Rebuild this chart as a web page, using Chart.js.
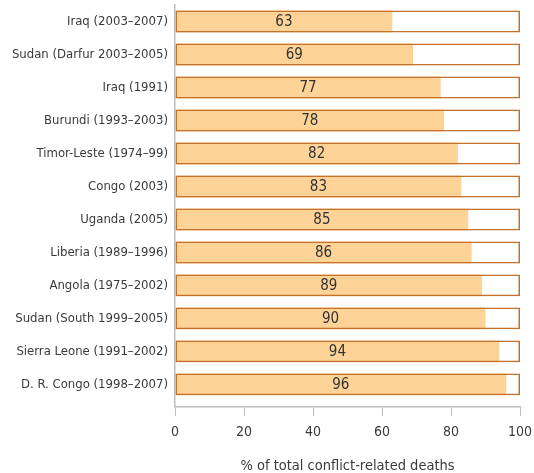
<!DOCTYPE html>
<html>
<head>
<meta charset="utf-8">
<script src="https://cdn.jsdelivr.net/npm/chart.js@4"></script>
<style>
  html, body { margin: 0; padding: 0; background: #fff; }
  #wrap { width: 534px; height: 473px; }
</style>
</head>
<body>
<div id="wrap"><canvas id="grafico"></canvas></div>
<script>
// Datos del grafico
const paises = [
  'Iraq (2003–2007)',
  'Sudan (Darfur 2003–2005)',
  'Iraq (1991)',
  'Burundi (1993–2003)',
  'Timor-Leste (1974–99)',
  'Congo (2003)',
  'Uganda (2005)',
  'Liberia (1989–1996)',
  'Angola (1975–2002)',
  'Sudan (South 1999–2005)',
  'Sierra Leone (1991–2002)',
  'D. R. Congo (1998–2007)'
];
const porcentajes = [63, 69, 77, 78, 82, 83, 85, 86, 89, 90, 94, 96];
const total = 100;
const ticksX = [0, 20, 40, 60, 80, 100];

const fuente = "'DejaVu Sans Condensed', 'Liberation Sans Narrow', 'Roboto', sans-serif";
const naranja = '#fdd397';
const borde = '#c4712a';

// etiquetas dentro de las barras
const etiquetas = {
  id: 'etiquetas',
  afterDatasetsDraw(chart) {
    const ctx = chart.ctx;
    const meta = chart.getDatasetMeta(0);
    ctx.save();
    ctx.font = '15px ' + fuente;
    ctx.fillStyle = '#333';
    ctx.textAlign = 'center';
    ctx.textBaseline = 'middle';
    meta.data.forEach((bar, i) => {
      ctx.fillText(String(porcentajes[i]), (bar.x + bar.base) / 2, bar.y + 1);
    });
    ctx.restore();
  }
};

new Chart(document.getElementById('grafico'), {
  type: 'bar',
  data: {
    datasets: [
      {
        data: porcentajes.map((v, i) => ({ x: v, y: i })),
        backgroundColor: naranja,
        borderWidth: 0,
        order: 2
      },
      {
        data: porcentajes.map((v, i) => ({ x: total, y: i })),
        backgroundColor: 'rgba(0,0,0,0)',
        borderColor: borde,
        borderWidth: 1.5,
        borderSkipped: false,
        order: 1
      }
    ]
  },
  options: {
    indexAxis: 'y',
    responsive: true,
    maintainAspectRatio: false,
    animation: false,
    grouped: false,
    barPercentage: 0.665,
    categoryPercentage: 1,
    layout: { padding: { left: 0, right: 14, top: 5, bottom: 0 } },
    plugins: {
      legend: { display: false },
      tooltip: { enabled: false }
    },
    scales: {
      x: {
        type: 'linear',
        min: 0,
        max: 100,
        afterBuildTicks: s => {
          s.ticks = ticksX.map(v => ({ value: v }));
          s.min = 0; s.max = 100;
        },
        afterFit: s => { s.paddingLeft = 0; s.paddingRight = 0; },
        grid: { drawOnChartArea: false, drawTicks: true, tickLength: 9, color: '#bdbdbd' },
        border: { display: true, color: '#bdbdbd', width: 1.5 },
        ticks: { font: { family: fuente, size: 14 }, color: '#3a3a3a', padding: 8 },
        title: {
          display: true,
          text: '% of total conflict-related deaths',
          font: { family: fuente, size: 14.5 },
          color: '#3a3a3a',
          padding: { top: 9, bottom: -2 }
        }
      },
      y: {
        type: 'linear',
        reverse: true,
        offset: false,
        bounds: 'data',
        min: -0.5,
        max: 11.68,
        afterBuildTicks: s => {
          s.ticks = paises.map((p, i) => ({ value: i }));
          s.min = -0.5; s.max = 11.68;
        },
        afterFit: s => { s.width = 175; s.paddingTop = 0; s.paddingBottom = 0; },
        grid: { display: false, drawTicks: false, offset: false },
        border: { display: true, color: '#bdbdbd', width: 1.5 },
        ticks: {
          font: { family: fuente, size: 13 },
          color: '#3a3a3a',
          padding: 7,
          callback: v => paises[v]
        }
      }
    }
  },
  plugins: [etiquetas]
});
</script>
</body>
</html>
